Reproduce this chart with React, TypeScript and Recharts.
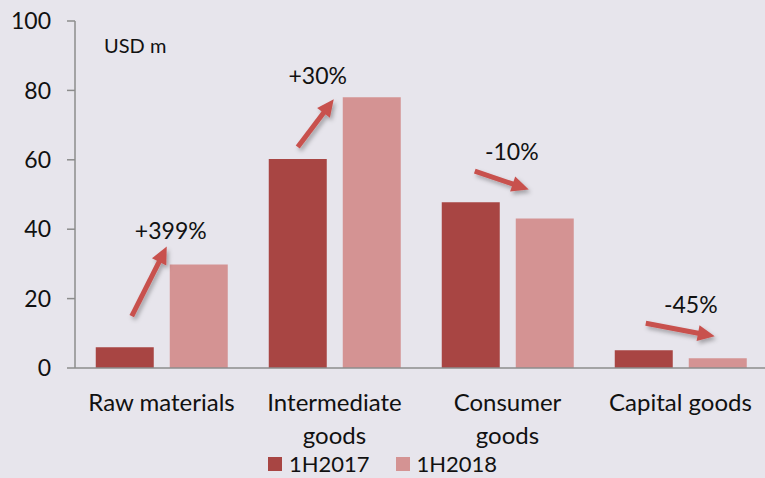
import React from "react";
import { BarChart, Bar, XAxis, YAxis, Legend } from "recharts";

const CATEGORIES = ["Raw materials", "Intermediate goods", "Consumer goods", "Capital goods"];
const TICK_LINES = [["Raw materials"], ["Intermediate", "goods"], ["Consumer", "goods"], ["Capital goods"]];
const H2017 = [6, 60.2, 47.8, 5.1];
const H2018 = [29.8, 78, 43.1, 2.8];
const CHANGES = ["+399%", "+30%", "-10%", "-45%"];
const Y_TICKS = [0, 20, 40, 60, 80, 100];

const DARK = "#A84543";
const LIGHT = "#D49393";
const ARROW = "#C8514E";
const AXIS = "#8c8c8c";
const BG = "#E7E5EC";
const FONT = "Lato, 'Noto Sans', sans-serif";
const BAR_GAP = 16;

// arrow / label placement relative to the two bars of each group
const ARROW_LAYOUT = [
  { sx: 7, sy: -31, ex: -3, ey: -18, lx: 1, ly: -34 },
  { sx: 0, sy: -12, ex: -9, ey: 2, lx: -25, ly: -21 },
  { sx: 4, sy: -31, ex: 13, ey: -29, lx: -4, ly: -66 },
  { sx: 2, sy: -27, ex: 26, ey: -22, lx: 2, ly: -53 },
];

const data = CATEGORIES.map((c, i) => ({ category: c, h2017: H2017[i], h2018: H2018[i] }));

const XTick = ({ x, y, payload }: any) => {
  const lines = TICK_LINES[payload.index] || [payload.value];
  return (
    <text x={x} y={y} textAnchor="middle" fill="#111" fontSize={24} fontFamily={FONT}>
      {lines.map((l: string, i: number) => (
        <tspan key={i} x={x} dy={i === 0 ? 43 : 33}>{l}</tspan>
      ))}
    </text>
  );
};

const ChangeArrow = (props: any) => {
  const { x, y, width, height, index } = props;
  const lay = ARROW_LAYOUT[index];
  if (!lay) return null;
  const base = y + height;
  const px = height / H2018[index];
  const top1 = base - H2017[index] * px;
  const c1 = x - BAR_GAP - width / 2;
  const x1 = c1 + lay.sx;
  const y1 = top1 + lay.sy;
  const x2 = x + lay.ex;
  const y2 = y + lay.ey;
  const dx = x2 - x1;
  const dy = y2 - y1;
  const len = Math.sqrt(dx * dx + dy * dy);
  const ux = dx / len;
  const uy = dy / len;
  const headL = 17;
  const headW = 8;
  const bx = x2 - ux * headL;
  const by = y2 - uy * headL;
  const head = `${x2},${y2} ${bx - uy * headW},${by + ux * headW} ${bx + uy * headW},${by - ux * headW}`;
  const fid = `shadow-${index}`;
  return (
    <g>
      <defs>
        <filter id={fid} x="-50%" y="-50%" width="200%" height="200%">
          <feDropShadow dx="2" dy="3" stdDeviation="2" floodColor="#000" floodOpacity="0.3" />
        </filter>
      </defs>
      <g filter={`url(#${fid})`}>
        <line x1={x1} y1={y1} x2={x2 - ux * (headL - 3)} y2={y2 - uy * (headL - 3)} stroke={ARROW} strokeWidth={5} />
        <polygon points={head} fill={ARROW} />
      </g>
      <text
        x={x + lay.lx}
        y={y + lay.ly}
        dy="0.35em"
        textAnchor="middle"
        fill="#111"
        fontSize={23}
        fontFamily={FONT}
      >
        {CHANGES[index]}
      </text>
    </g>
  );
};

const LegendContent = () => (
  <div style={{ display: "flex", justifyContent: "center", gap: 26, fontFamily: FONT, fontSize: 22, lineHeight: "22px", color: "#111" }}>
    {[["1H2017", DARK], ["1H2018", LIGHT]].map(([name, col]) => (
      <div key={name} style={{ display: "flex", alignItems: "center" }}>
        <span style={{ width: 14, height: 14, background: col, marginRight: 7, display: "inline-block" }} />
        <span>{name}</span>
      </div>
    ))}
  </div>
);

export default function App() {
  return (
    <div style={{ position: "absolute", left: 0, top: 0, width: 765, height: 478, overflow: "hidden", background: BG }}>
      <BarChart
        width={765}
        height={478}
        data={data}
        margin={{ top: 21, right: -2, bottom: 30, left: 0 }}
        barCategoryGap="12%"
        barGap={BAR_GAP}
      >
        <XAxis
          dataKey="category"
          tick={<XTick />}
          tickLine={false}
          tickSize={0}
          tickMargin={0}
          height={80}
          interval={0}
          axisLine={{ stroke: AXIS, strokeWidth: 1.5 }}
        />
        <YAxis
          width={75}
          domain={[0, 100]}
          ticks={Y_TICKS}
          interval={0}
          tickSize={8}
          tickMargin={16}
          axisLine={{ stroke: AXIS, strokeWidth: 1.5 }}
          tickLine={{ stroke: AXIS, strokeWidth: 1.5 }}
          tick={{ fill: "#111", fontSize: 23, fontFamily: FONT }}
          label={{
            content: (p: any) => (
              <text x={p.viewBox.x + p.viewBox.width + 29} y={p.viewBox.y + 32} fill="#111" fontSize={20} fontFamily={FONT}>
                USD m
              </text>
            ),
          }}
        />
        <Legend
          layout="horizontal"
          verticalAlign="middle"
          content={<LegendContent />}
          wrapperStyle={{ top: 453, left: 0, width: 765 }}
        />
        <Bar dataKey="h2017" name="1H2017" fill={DARK} isAnimationActive={false} />
        <Bar dataKey="h2018" name="1H2018" fill={LIGHT} isAnimationActive={false} label={(p: any) => <ChangeArrow {...p} />} />
      </BarChart>
    </div>
  );
}
